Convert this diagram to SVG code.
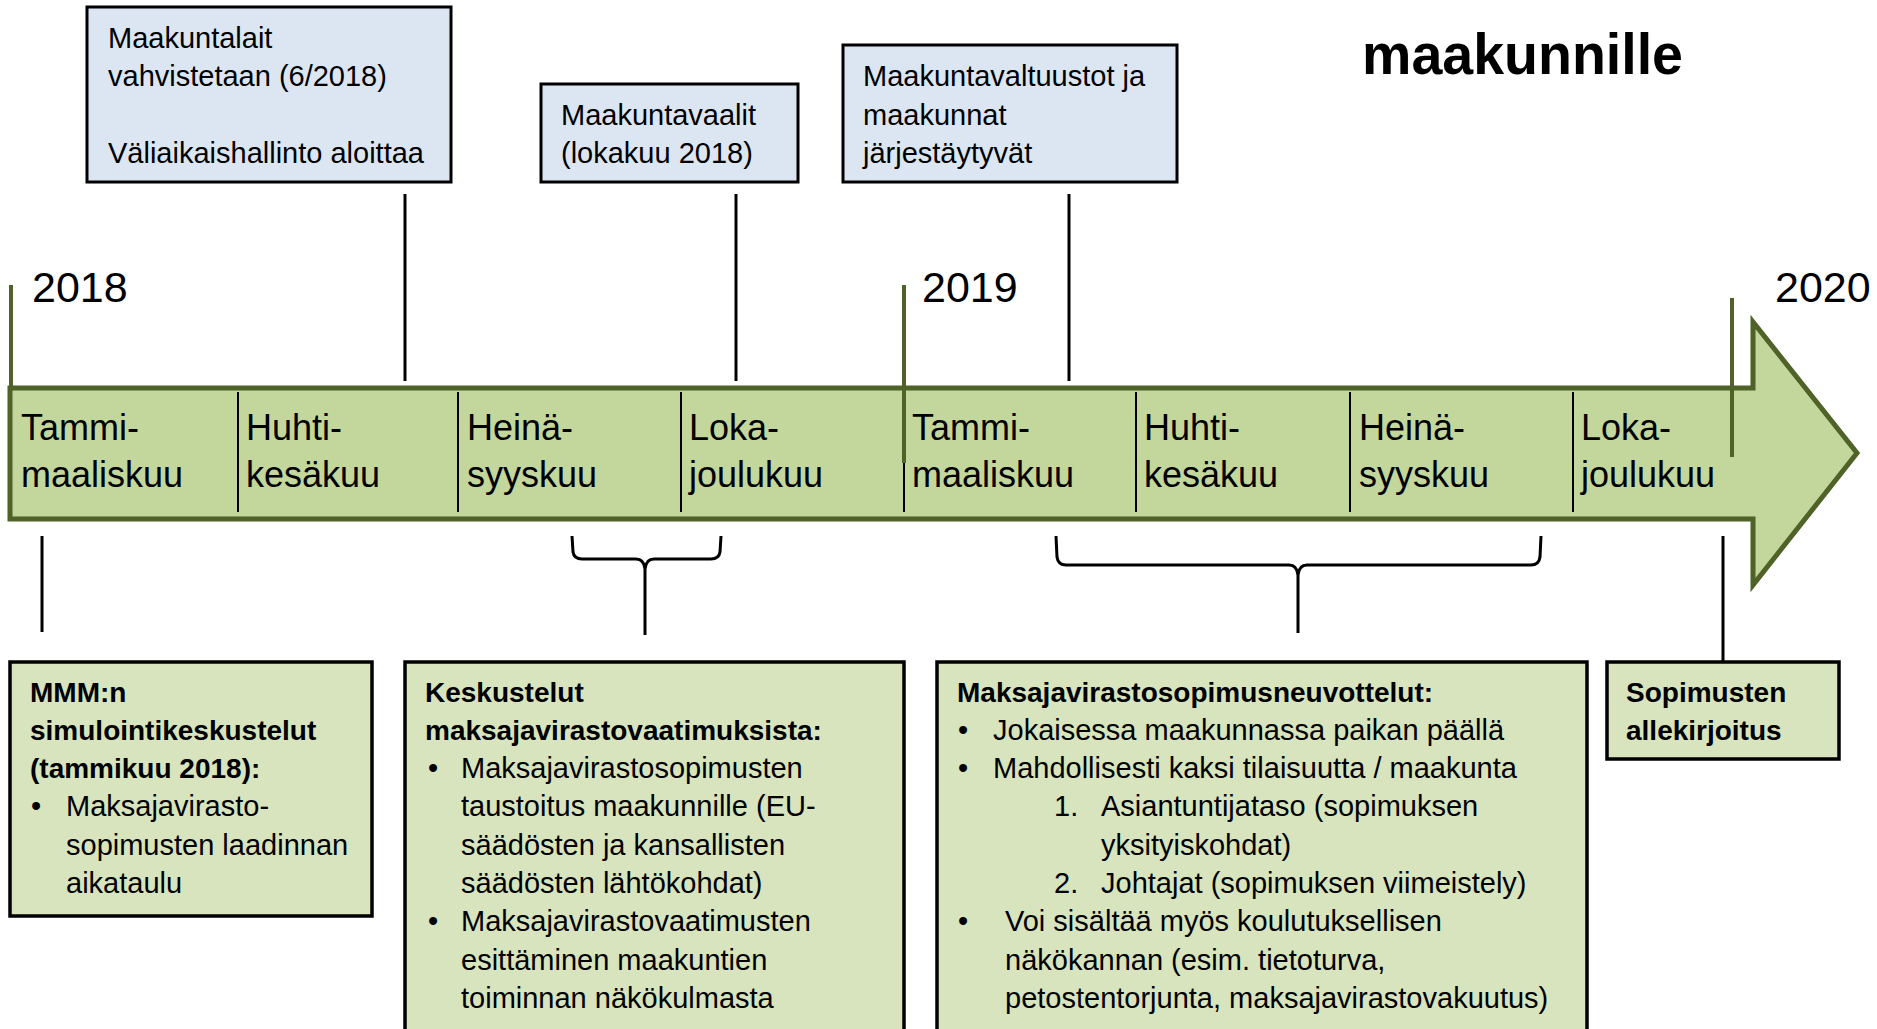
<svg xmlns="http://www.w3.org/2000/svg" width="1877" height="1029" viewBox="0 0 1877 1029">
<style>
.t{font-family:"Liberation Sans",Arial,sans-serif;fill:#000}
.bt{font-size:29px}
.lbl{font-size:36px}
.yr{font-size:43px}
.b{font-size:28px;font-weight:bold}
.title{font-size:57px;font-weight:bold}
.boxTop{fill:#dce6f2;stroke:#000;stroke-width:3}
.boxBot{fill:#d7e4bd;stroke:#000;stroke-width:3.5}
.conn{stroke:#000;stroke-width:3;fill:none}
.div{stroke:#000;stroke-width:2}
.yl{stroke:#4f6228;stroke-width:4}
</style>
<rect width="1877" height="1029" fill="#fff"/>

<g id="title">
<text class="t title" x="1362" y="74" textLength="321" lengthAdjust="spacingAndGlyphs">maakunnille</text>
</g>

<g id="timeline">
<path d="M10,388 L1753,388 L1753,322 L1857,453 L1753,585 L1753,519 L10,519 Z" fill="#c3d69b" stroke="#4f6228" stroke-width="5"/>
<line class="div" x1="238" y1="392" x2="238" y2="512"/>
<line class="div" x1="458" y1="392" x2="458" y2="512"/>
<line class="div" x1="681" y1="392" x2="681" y2="512"/>
<line class="div" x1="904" y1="392" x2="904" y2="512"/>
<line class="div" x1="1136" y1="392" x2="1136" y2="512"/>
<line class="div" x1="1350" y1="392" x2="1350" y2="512"/>
<line class="div" x1="1573" y1="392" x2="1573" y2="512"/>
<text class="t lbl" x="21" y="440">Tammi-</text><text class="t lbl" x="21" y="487">maaliskuu</text>
<text class="t lbl" x="246" y="440">Huhti-</text><text class="t lbl" x="246" y="487">kesäkuu</text>
<text class="t lbl" x="467" y="440">Heinä-</text><text class="t lbl" x="467" y="487">syyskuu</text>
<text class="t lbl" x="689" y="440">Loka-</text><text class="t lbl" x="689" y="487">joulukuu</text>
<text class="t lbl" x="912" y="440">Tammi-</text><text class="t lbl" x="912" y="487">maaliskuu</text>
<text class="t lbl" x="1144" y="440">Huhti-</text><text class="t lbl" x="1144" y="487">kesäkuu</text>
<text class="t lbl" x="1359" y="440">Heinä-</text><text class="t lbl" x="1359" y="487">syyskuu</text>
<text class="t lbl" x="1581" y="440">Loka-</text><text class="t lbl" x="1581" y="487">joulukuu</text>
</g>

<g id="years">
<line class="yl" x1="11" y1="285" x2="11" y2="389"/>
<line class="yl" x1="904" y1="285" x2="904" y2="463"/>
<line class="yl" x1="1732" y1="298" x2="1732" y2="457"/>
<text class="t yr" x="32" y="302">2018</text>
<text class="t yr" x="922" y="302">2019</text>
<text class="t yr" x="1775" y="302">2020</text>
</g>

<g id="connectors">
<line class="conn" x1="405" y1="194" x2="405" y2="381"/>
<line class="conn" x1="736" y1="194" x2="736" y2="381"/>
<line class="conn" x1="1069" y1="194" x2="1069" y2="381"/>
<line class="conn" x1="42" y1="536" x2="42" y2="632"/>
<path class="conn" d="M572,536 L573,552 Q574,559 582,559 L636,559 Q644,559 645,569 L645,635 M645,569 Q646,559 654,559 L711,559 Q719,559 720,552 L721,536"/>
<path class="conn" d="M1056,536 L1057,557 Q1058,565 1066,565 L1289,565 Q1297,565 1298,575 L1298,633 M1298,575 Q1299,565 1307,565 L1531,565 Q1539,565 1540,557 L1541,536"/>
<line class="conn" x1="1723" y1="536" x2="1723" y2="662"/>
</g>

<g id="box-maakuntalait">
<rect class="boxTop" x="87" y="7" width="364" height="175"/>
<text class="t bt" x="108" y="48">Maakuntalait</text>
<text class="t bt" x="108" y="86">vahvistetaan (6/2018)</text>
<text class="t bt" x="108" y="163">Väliaikaishallinto aloittaa</text>
</g>

<g id="box-maakuntavaalit">
<rect class="boxTop" x="541" y="84" width="257" height="98"/>
<text class="t bt" x="561" y="125">Maakuntavaalit</text>
<text class="t bt" x="561" y="163">(lokakuu 2018)</text>
</g>

<g id="box-valtuustot">
<rect class="boxTop" x="843" y="45" width="334" height="137"/>
<text class="t bt" x="863" y="86">Maakuntavaltuustot ja</text>
<text class="t bt" x="863" y="125">maakunnat</text>
<text class="t bt" x="863" y="163">järjestäytyvät</text>
</g>

<g id="box-mmm">
<rect class="boxBot" x="10" y="662" width="362" height="254"/>
<text class="t b" x="30" y="702">MMM:n</text>
<text class="t b" x="30" y="740">simulointikeskustelut</text>
<text class="t b" x="30" y="778">(tammikuu 2018):</text>
<text class="t bt" x="31" y="816">•</text>
<text class="t bt" x="66" y="816">Maksajavirasto-</text>
<text class="t bt" x="66" y="855">sopimusten laadinnan</text>
<text class="t bt" x="66" y="893">aikataulu</text>
</g>

<g id="box-keskustelut">
<rect class="boxBot" x="405" y="662" width="499" height="380"/>
<text class="t b" x="425" y="702">Keskustelut</text>
<text class="t b" x="425" y="740">maksajavirastovaatimuksista:</text>
<text class="t bt" x="428" y="778">•</text>
<text class="t bt" x="461" y="778">Maksajavirastosopimusten</text>
<text class="t bt" x="461" y="816">taustoitus maakunnille (EU-</text>
<text class="t bt" x="461" y="855">säädösten ja kansallisten</text>
<text class="t bt" x="461" y="893">säädösten lähtökohdat)</text>
<text class="t bt" x="428" y="931">•</text>
<text class="t bt" x="461" y="931">Maksajavirastovaatimusten</text>
<text class="t bt" x="461" y="970">esittäminen maakuntien</text>
<text class="t bt" x="461" y="1008">toiminnan näkökulmasta</text>
</g>

<g id="box-neuvottelut">
<rect class="boxBot" x="937" y="662" width="650" height="380"/>
<text class="t b" x="957" y="702">Maksajavirastosopimusneuvottelut:</text>
<text class="t bt" x="958" y="740">•</text>
<text class="t bt" x="993" y="740">Jokaisessa maakunnassa paikan päällä</text>
<text class="t bt" x="958" y="778">•</text>
<text class="t bt" x="993" y="778">Mahdollisesti kaksi tilaisuutta / maakunta</text>
<text class="t bt" x="1054" y="816">1.</text>
<text class="t bt" x="1101" y="816">Asiantuntijataso (sopimuksen</text>
<text class="t bt" x="1101" y="855">yksityiskohdat)</text>
<text class="t bt" x="1054" y="893">2.</text>
<text class="t bt" x="1101" y="893">Johtajat (sopimuksen viimeistely)</text>
<text class="t bt" x="958" y="931">•</text>
<text class="t bt" x="1005" y="931">Voi sisältää myös koulutuksellisen</text>
<text class="t bt" x="1005" y="970">näkökannan (esim. tietoturva,</text>
<text class="t bt" x="1005" y="1008">petostentorjunta, maksajavirastovakuutus)</text>
</g>

<g id="box-allekirjoitus">
<rect class="boxBot" x="1607" y="662" width="232" height="97"/>
<text class="t b" x="1626" y="702">Sopimusten</text>
<text class="t b" x="1626" y="740">allekirjoitus</text>
</g>
</svg>
